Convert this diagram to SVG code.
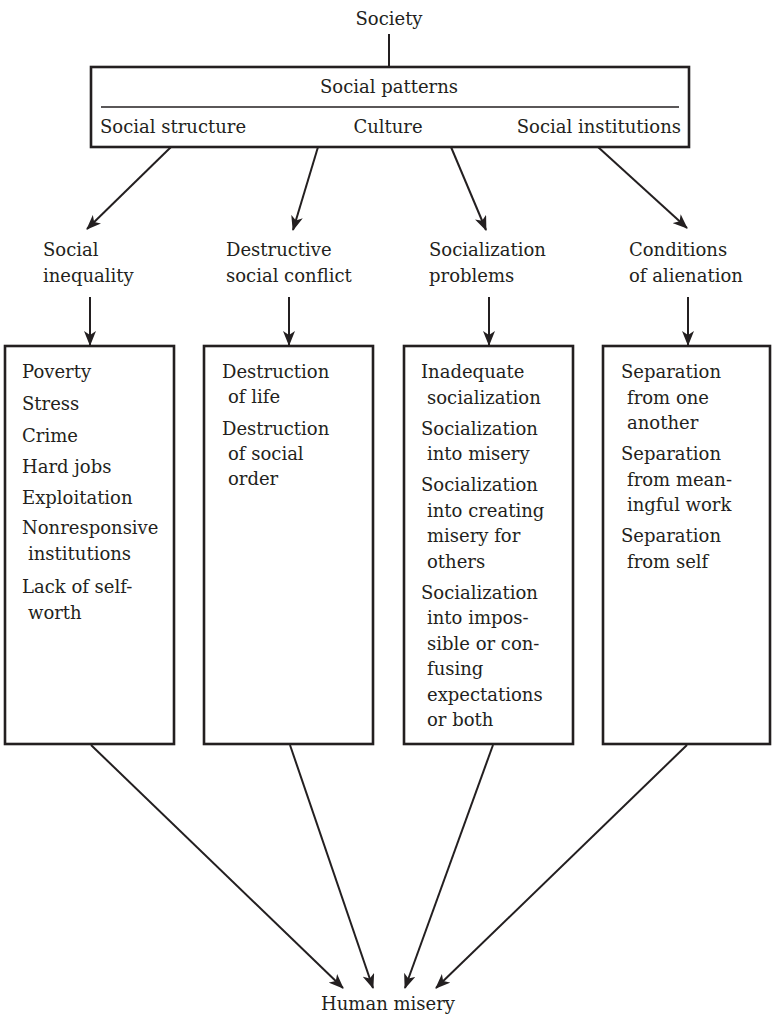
<svg xmlns="http://www.w3.org/2000/svg" width="772" height="1020" viewBox="0 0 772 1020">
<style>
text{font-family:"DejaVu Serif","Liberation Serif",serif;font-size:18px;fill:#231f20}
.c{text-anchor:middle}
.r{text-anchor:end}
.box{fill:#fff;stroke:#231f20;stroke-width:2.6}
.ln{stroke:#231f20;stroke-width:2;fill:none}
.ar{stroke:#231f20;stroke-width:2;fill:none;marker-end:url(#ah)}
</style>
<defs>
<marker id="ah" markerUnits="userSpaceOnUse" markerWidth="15" markerHeight="12" viewBox="0 0 15 12" refX="14" refY="6" orient="auto">
<path d="M0,0 L15,6 L0,12 L4,6 z" fill="#231f20"/>
</marker>
</defs>

<g id="society"><text class="c" x="389" y="25">Society</text></g>

<g id="social-patterns">
<rect class="box" x="91" y="67" width="598" height="80"/>
<text class="c" x="389" y="93">Social patterns</text>
<line class="ln" x1="101" y1="107" x2="679" y2="107" style="stroke-width:1.5"/>
<text x="100" y="133">Social structure</text>
<text class="c" x="388" y="133">Culture</text>
<text class="r" x="681" y="133">Social institutions</text>
</g>

<g id="cat-inequality"><text x="43" y="256">Social</text><text x="43" y="282">inequality</text></g>
<g id="cat-conflict"><text x="226" y="256">Destructive</text><text x="226" y="282">social conflict</text></g>
<g id="cat-socialization"><text x="429" y="256">Socialization</text><text x="429" y="282">problems</text></g>
<g id="cat-alienation"><text x="629" y="256">Conditions</text><text x="629" y="282">of alienation</text></g>

<g id="box-inequality">
<rect class="box" x="5" y="346" width="169" height="398"/>
<text x="22" y="378">Poverty</text>
<text x="22" y="410">Stress</text>
<text x="22" y="442">Crime</text>
<text x="22" y="473">Hard jobs</text>
<text x="22" y="504">Exploitation</text>
<text x="22" y="534">Nonresponsive</text>
<text x="28" y="560">institutions</text>
<text x="22" y="593">Lack of self-</text>
<text x="28" y="619">worth</text>
</g>

<g id="box-conflict">
<rect class="box" x="204" y="346" width="169" height="398"/>
<text x="222" y="378">Destruction</text>
<text x="228" y="403">of life</text>
<text x="222" y="435">Destruction</text>
<text x="228" y="460">of social</text>
<text x="228" y="485">order</text>
</g>

<g id="box-socialization">
<rect class="box" x="404" y="346" width="169" height="398"/>
<text x="421" y="378">Inadequate</text>
<text x="427" y="403.5">socialization</text>
<text x="421" y="434.5">Socialization</text>
<text x="427" y="460">into misery</text>
<text x="421" y="491">Socialization</text>
<text x="427" y="516.5">into creating</text>
<text x="427" y="542">misery for</text>
<text x="427" y="567.5">others</text>
<text x="421" y="598.5">Socialization</text>
<text x="427" y="624">into impos-</text>
<text x="427" y="649.5">sible or con-</text>
<text x="427" y="675">fusing</text>
<text x="427" y="700.5">expectations</text>
<text x="427" y="726">or both</text>
</g>

<g id="box-alienation">
<rect class="box" x="603" y="346" width="167" height="398"/>
<text x="621" y="378">Separation</text>
<text x="627" y="403.5">from one</text>
<text x="627" y="429">another</text>
<text x="621" y="460">Separation</text>
<text x="627" y="485.5">from mean-</text>
<text x="627" y="511">ingful work</text>
<text x="621" y="542">Separation</text>
<text x="627" y="567.5">from self</text>
</g>

<g id="human-misery"><text class="c" x="388" y="1010">Human misery</text></g>

<g id="connectors">
<line class="ln" x1="389" y1="34" x2="389" y2="67"/>
<line class="ar" x1="171" y1="147" x2="87" y2="229"/>
<line class="ar" x1="318" y1="147" x2="293" y2="230"/>
<line class="ar" x1="451" y1="147" x2="486" y2="230"/>
<line class="ar" x1="598" y1="147" x2="687" y2="228"/>
<line class="ar" x1="90" y1="297" x2="90" y2="345"/>
<line class="ar" x1="289" y1="297" x2="289" y2="345"/>
<line class="ar" x1="489" y1="297" x2="489" y2="345"/>
<line class="ar" x1="688" y1="297" x2="688" y2="345"/>
<line class="ar" x1="91" y1="745" x2="343" y2="988"/>
<line class="ar" x1="290" y1="745" x2="373" y2="988"/>
<line class="ar" x1="493" y1="745" x2="405" y2="988"/>
<line class="ar" x1="687" y1="745" x2="436" y2="988"/>
</g>
</svg>
